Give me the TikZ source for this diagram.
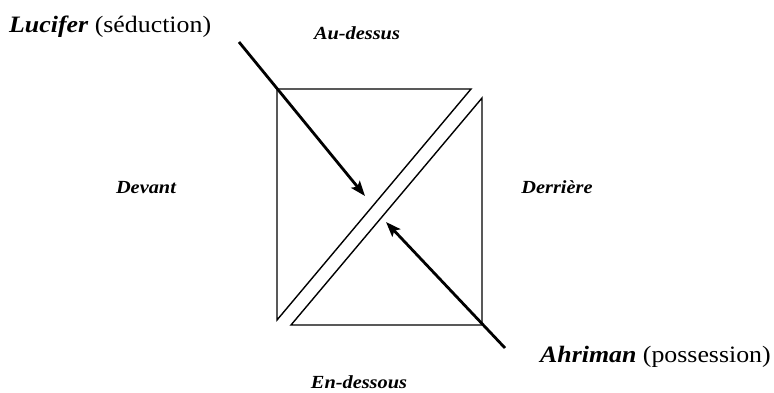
\documentclass[tikz,border=0pt]{standalone}
\usepackage{fontspec}
\setmainfont{Liberation Serif}
\usetikzlibrary{arrows.meta}
\newcommand{\wide}[1]{\scalebox{1.1}[1]{#1}}
\begin{document}
\begin{tikzpicture}[x=1pt, y=-1pt, >={Stealth[length=15pt, width=11pt, inset=3pt]},
  side/.style={font=\fontsize{18.5}{20}\selectfont\bfseries\itshape, inner sep=0pt, anchor=base},
  agent/.style={font=\fontsize{23.5}{26}\selectfont, inner sep=0pt, anchor=base west},
  edge/.style={line width=1.4pt},
  force/.style={->, line width=2.8pt}]
\useasboundingbox (0,0) rectangle (774,392);
% the two halves of the square
\coordinate (a1) at (277,89);
\coordinate (a2) at (471,89);
\coordinate (a3) at (277,320);
\coordinate (b1) at (482,98);
\coordinate (b2) at (482,325);
\coordinate (b3) at (291,325);
\draw[edge, line join=miter] (a1) -- (a2) -- (a3) -- cycle;
\draw[edge, line join=miter] (b1) -- (b2) -- (b3) -- cycle;
% directions
\node[side] (top) at (357,39) {\wide{Au-dessus}};
\node[side] (front) at (146,193) {\wide{Devant}};
\node[side] (back) at (557,193) {\wide{Derrière}};
\node[side] (bottom) at (359,388) {\wide{En-dessous}};
% the two beings
\node[agent] (luc) at (9,32) {\wide{\textbf{\textit{Lucifer}} (séduction)}};
\node[agent] (ahr) at (540,362) {\wide{\textbf{\textit{Ahriman}} (possession)}};
\coordinate (lucA) at (239,42);
\coordinate (lucB) at (365,196);
\coordinate (ahrA) at (505,348);
\coordinate (ahrB) at (386,222);
\draw[force] (lucA) -- (lucB);
\draw[force] (ahrA) -- (ahrB);
\end{tikzpicture}
\end{document}
